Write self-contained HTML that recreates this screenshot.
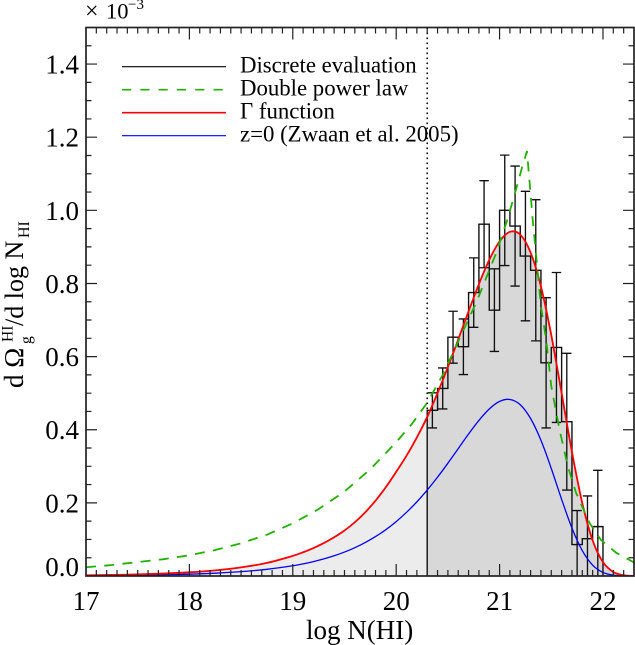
<!DOCTYPE html>
<html>
<head>
<meta charset="utf-8">
<title>HI column density chart</title>
<style>
html,body{margin:0;padding:0;background:#fff;width:635px;height:645px;overflow:hidden}
svg{display:block}
text{font-family:"Liberation Serif",serif;fill:#000}
</style>
</head>
<body>
<svg id="chart" xmlns="http://www.w3.org/2000/svg" width="635" height="645" viewBox="0 0 635 645">
  <defs>
    <clipPath id="plot-clip"><rect x="86" y="27.5" width="548" height="548.5"/></clipPath>
  </defs>
  <g id="fills" clip-path="url(#plot-clip)"></g>
  <g id="series" clip-path="url(#plot-clip)"></g>
  <g id="axes"></g>
  <g id="legend"></g>

  <text x="85" y="18.5" font-size="24">×</text>
  <text x="106" y="18.5" font-size="22.5">10</text>
  <text x="128" y="9" font-size="15">−3</text>

  <text x="306" y="639" font-size="27">log N(HI)</text>

  <g>
    <text transform="translate(23,388) rotate(-90)" font-size="27">d Ω</text>
    <text transform="translate(12.7,342) rotate(-90)" font-size="15.5">HI</text>
    <text transform="translate(31,344) rotate(-90)" font-size="15.5">g</text>
    <text transform="translate(23,326) rotate(-90)" font-size="26">/d log N</text>
    <text transform="translate(29,238) rotate(-90)" font-size="16">HI</text>
  </g>
</svg>
<script>
const xMin = 17, xMax = 22.3, yMin = 0, yMax = 1.5;

const binEdges = [20.3,20.4,20.5,20.6,20.7,20.8,20.9,21.0,21.1,21.2,21.3,21.4,21.5,21.6,21.7,21.8,21.9,22.0];
const binValues = [0.453,0.513,0.653,0.627,0.775,0.962,0.727,1.000,0.957,0.875,0.836,0.583,0.625,0.422,0.086,0.102,0.135];
const binErrors = [0.048,0.056,0.071,0.076,0.095,0.119,0.113,0.151,0.164,0.177,0.193,0.178,0.205,0.187,0.093,0.117,0.154];

const curveLogN = [17,17.25,17.5,17.75,18,18.25,18.5,18.75,19,19.1,19.2,19.3,19.4,19.5,19.6,19.7,19.8,19.9,20,20.1,20.2,20.3,20.4,20.5,20.6,20.7,20.8,20.9,21,21.1,21.2,21.3,21.4,21.5,21.6,21.7,21.8,21.9,22,22.1,22.2,22.3];
const gammaValues = [0.0019,0.0029,0.0044,0.0067,0.0101,0.0154,0.0235,0.0358,0.0550,0.0650,0.0765,0.0900,0.1060,0.1245,0.1470,0.1740,0.2060,0.2430,0.2850,0.3290,0.3790,0.4350,0.5004,0.5714,0.6468,0.7238,0.7981,0.8644,0.9151,0.9412,0.9335,0.8845,0.7918,0.6589,0.5003,0.3391,0.1990,0.0972,0.0378,0.0110,0.0022,0.0004];
const zwaanValues = [0.0009,0.0014,0.0021,0.0032,0.0050,0.0077,0.0119,0.0183,0.0280,0.0332,0.0394,0.0467,0.0553,0.0655,0.0775,0.0915,0.1078,0.1267,0.1488,0.1741,0.2027,0.2350,0.2703,0.3085,0.3483,0.3884,0.4255,0.4567,0.4775,0.4828,0.4684,0.4307,0.3711,0.2940,0.2097,0.1310,0.0692,0.0297,0.0098,0.0023,0.0004,0.0001];

const doubleLogN = [17,17.25,17.5,17.75,18,18.25,18.5,18.75,19,19.25,19.5,19.75,20,20.15,20.3,20.45,20.55,20.65,20.775,20.87,20.97,21.07,21.16,21.22,21.265,21.28,21.3,21.32,21.345,21.4,21.45,21.5,21.58,21.66,21.74,21.87,21.98,22.13,22.3];
const doubleValues = [0.024,0.030,0.038,0.046,0.0566,0.071,0.0895,0.113,0.144,0.183,0.231,0.292,0.366,0.415,0.474,0.550,0.611,0.672,0.748,0.815,0.885,0.970,1.058,1.120,1.162,1.110,1.045,0.975,0.902,0.738,0.647,0.519,0.400,0.300,0.227,0.145,0.0986,0.063,0.037];

const xTickLabels = [17,18,19,20,21,22];
const yTickLabels = [0.0,0.2,0.4,0.6,0.8,1.0,1.2,1.4];
const legendLabels = ["Discrete evaluation","Double power law","Γ function","z=0 (Zwaan et al. 2005)"];
const lowerLimit = 20.3;

const NS = "http://www.w3.org/2000/svg";
function xPos(v){ return 86 + (v - xMin) * (634 - 86) / (xMax - xMin); }
function yPos(v){ return 576 - (v - yMin) * (576 - 27.5) / (yMax - yMin); }

function make(parent, tag, attrs){
  const el = document.createElementNS(NS, tag);
  for (const k in attrs) el.setAttribute(k, attrs[k]);
  parent.appendChild(el);
  return el;
}
function pathFrom(xs, ys){
  let d = "";
  for (let i = 0; i < xs.length; i++) d += (i ? "L" : "M") + xPos(xs[i]).toFixed(2) + " " + yPos(ys[i]).toFixed(2);
  return d;
}
function smoothPath(xs, ys){
  const px = xs.map(xPos), py = ys.map(yPos);
  const slope = px.map(function(_, i){
    const a = Math.max(i - 1, 0), b = Math.min(i + 1, px.length - 1);
    return (py[b] - py[a]) / (px[b] - px[a]);
  });
  let d = "M" + px[0].toFixed(2) + " " + py[0].toFixed(2);
  for (let i = 1; i < px.length; i++){
    const h = (px[i] - px[i-1]) / 3;
    d += "C" + (px[i-1] + h).toFixed(2) + " " + (py[i-1] + slope[i-1] * h).toFixed(2) + " " +
         (px[i] - h).toFixed(2) + " " + (py[i] - slope[i] * h).toFixed(2) + " " +
         px[i].toFixed(2) + " " + py[i].toFixed(2);
  }
  return d;
}
function lerp(xs, ys, x){
  for (let i = 1; i < xs.length; i++){
    if (x <= xs[i]) return ys[i-1] + (ys[i]-ys[i-1]) * (x-xs[i-1]) / (xs[i]-xs[i-1]);
  }
  return ys[ys.length-1];
}

const fills = document.getElementById("fills");
const series = document.getElementById("series");
const axes = document.getElementById("axes");
const legend = document.getElementById("legend");

/* fills under the gamma function */
const lowX = [], lowY = [], highX = [], highY = [];
curveLogN.forEach(function(x, i){
  if (x < lowerLimit) { lowX.push(x); lowY.push(gammaValues[i]); }
  if (x > lowerLimit) { highX.push(x); highY.push(gammaValues[i]); }
});
const limitY = lerp(curveLogN, gammaValues, lowerLimit);
lowX.push(lowerLimit); lowY.push(limitY);
highX.unshift(lowerLimit); highY.unshift(limitY);

const lowFill = make(fills, "path", {
  d: smoothPath(lowX, lowY) + "L" + xPos(lowerLimit) + " " + yPos(0) + "L" + xPos(xMin) + " " + yPos(0) + "Z",
  fill: "#ececec"
});



const highFill = make(fills, "path", {
  d: smoothPath(highX, highY) + "L" + xPos(xMax) + " " + yPos(0) + "L" + xPos(lowerLimit) + " " + yPos(0) + "Z",
  fill: "#d8d8d8"
});



/* dotted limit */
const limitLine = make(series, "line", {
  x1: xPos(lowerLimit), x2: xPos(lowerLimit), y1: yPos(yMax), y2: yPos(binValues[0]),
  stroke: "#000", "stroke-width": 1.5, "stroke-dasharray": "1.6 3.4"
});



/* histogram outline */
let hist = "M" + xPos(binEdges[0]).toFixed(2) + " " + yPos(0);
binValues.forEach(function(v, i){
  hist += "L" + xPos(binEdges[i]).toFixed(2) + " " + yPos(v).toFixed(2);
  hist += "L" + xPos(binEdges[i+1]).toFixed(2) + " " + yPos(v).toFixed(2);
});
hist += "L" + xPos(binEdges[binEdges.length-1]).toFixed(2) + " " + yPos(0);
const histPath = make(series, "path", { d: hist, fill: "none", stroke: "#111", "stroke-width": 1.4 });



/* error bars */
binValues.forEach(function(v, i){
  const cx = xPos((binEdges[i] + binEdges[i+1]) / 2);
  const hi = yPos(v + binErrors[i]);
  const lo = yPos(Math.max(v - binErrors[i], -0.01));
  const g = make(series, "path", {
    d: "M" + cx + " " + hi + "L" + cx + " " + lo +
       "M" + (cx-4.7) + " " + hi + "L" + (cx+4.7) + " " + hi +
       "M" + (cx-4.7) + " " + lo + "L" + (cx+4.7) + " " + lo,
    fill: "none", stroke: "#111", "stroke-width": 1.35
  });
  
  
});

/* curves */
const zwaanLine = make(series, "path", { d: smoothPath(curveLogN, zwaanValues), fill: "none", stroke: "#0000ff", "stroke-width": 1.3 });



const gammaLine = make(series, "path", { d: smoothPath(curveLogN, gammaValues), fill: "none", stroke: "#ff0000", "stroke-width": 1.8 });



const doubleLine = make(series, "path", { d: pathFrom(doubleLogN, doubleValues), fill: "none", stroke: "#22b000", "stroke-width": 1.8, "stroke-dasharray": "10 8.3" });



/* frame and ticks */
const frame = make(axes, "rect", { x: 86, y: 27.5, width: 548, height: 548.5, fill: "none", stroke: "#222", "stroke-width": 1.7 });



let tickD = "";
for (let k = 1; k <= 52; k++){
  const v = xMin + k * 0.1;
  const len = k % 10 === 0 ? 12 : 6;
  const px = xPos(v).toFixed(2);
  tickD += "M" + px + " 576L" + px + " " + (576 - len) + "M" + px + " 27.5L" + px + " " + (27.5 + len);
}
for (let k = 1; k <= 29; k++){
  const v = k * 0.05;
  const len = k % 4 === 0 ? 11 : 5.5;
  const py = yPos(v).toFixed(2);
  tickD += "M86 " + py + "L" + (86 + len) + " " + py + "M634 " + py + "L" + (634 - len) + " " + py;
}
const ticks = make(axes, "path", { d: tickD, fill: "none", stroke: "#222", "stroke-width": 1.2 });



xTickLabels.forEach(function(v){
  const t = make(axes, "text", { x: xPos(v), y: 610, "font-size": 27, "text-anchor": "middle" });
  t.textContent = String(v);
  
  
});
yTickLabels.forEach(function(v){
  const base = v === 0 ? 576 : yPos(v) + 9.5;
  const t = make(axes, "text", { x: 79, y: base, "font-size": 27, "text-anchor": "end" });
  t.textContent = v.toFixed(1);
  
  
});

/* legend */
const legendColors = ["#000000","#22b000","#ff0000","#0000ff"];
const legendDash = ["","9.2 9.1","",""];
const legendWidths = [1.1,1.6,1.6,1.2];
legendLabels.forEach(function(label, i){
  const ly = 66.7 + i * 23;
  const ln = make(legend, "line", { x1: 122, x2: 226, y1: ly, y2: ly, stroke: legendColors[i], "stroke-width": legendWidths[i] });
  if (legendDash[i]) ln.setAttribute("stroke-dasharray", legendDash[i]);
  
  
  const t = make(legend, "text", { x: 240, y: ly + 6, "font-size": 22.8 });
  t.textContent = label;
  
  
});
</script>
</body>
</html>
